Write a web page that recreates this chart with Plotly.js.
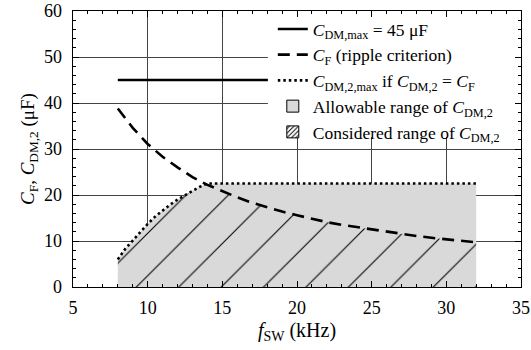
<!DOCTYPE html>
<html>
<head>
<meta charset="utf-8">
<script src="https://cdn.plot.ly/plotly-3.0.1.min.js"></script>
<style>
  body { margin: 0; }
</style>
</head>
<body>
<div id="chart" style="width:531px;height:350px"></div>
<script>
// Switching frequency f_SW (kHz) and filter capacitance C_F (µF) from the ripple criterion
const fsw = [8, 9, 10, 11, 12, 13, 14, 15, 16, 17, 18, 19, 20,
             21, 22, 23, 24, 25, 26, 27, 28, 29, 30, 31, 32];
const cF  = [38.8, 34.6, 31.1, 28.3, 26.0, 23.9, 22.2, 20.8, 19.5, 18.3, 17.3, 16.4, 15.6,
             14.8, 14.1, 13.5, 13.0, 12.5, 12.0, 11.5, 11.1, 10.7, 10.4, 10.0, 9.7];

// Maximum C_DM,2 if C_DM,2 = C_F (upper edge of the allowable range)
const fswDot = [8, 8.5, 9, 9.5, 10, 10.5, 11, 11.5, 12, 12.5, 13, 13.5, 14, 32];
const cDot   = [6.0, 8.3, 10.1, 12.0, 13.7, 15.3, 16.7, 17.9, 19.0, 20.0, 20.9, 21.8, 22.5, 22.5];

// Upper limit C_DM,max
const fswMax = [8, 32];
const cMax   = [45, 45];

// Considered range: below both the dotted limit and the ripple curve
const hatchX = [], hatchY = [];
fswDot.forEach((x, i) => { if (x < 14) { hatchX.push(x); hatchY.push(cDot[i]); } });
fsw.forEach((x, i) => {
  if (x >= 14) {
    const j = fswDot.indexOf(x);
    hatchX.push(x);
    hatchY.push(j >= 0 ? Math.min(cF[i], cDot[j]) : cF[i]);
  }
});

const FONT = 'Liberation Serif';
const GREY = '#d9d9d9';

const traces = [
  { // allowable range
    x: fswDot, y: cDot, type: 'scatter', mode: 'lines',
    fill: 'tozeroy', fillcolor: GREY, line: { width: 0 },
    showlegend: false, hoverinfo: 'skip'
  },
  { // considered range (hatched)
    x: hatchX, y: hatchY, type: 'scatter', mode: 'lines',
    fill: 'tozeroy', fillcolor: 'rgba(0,0,0,0)', line: { width: 0 },
    fillpattern: { shape: '/', size: 30, solidity: 0.035,
                   fgcolor: '#000', bgcolor: 'rgba(0,0,0,0)' },
    showlegend: false, hoverinfo: 'skip'
  },
  {
    x: fswMax, y: cMax, type: 'scatter', mode: 'lines',
    name: '<i>C</i><sub>DM,max</sub> = 45 μF',
    line: { color: '#000', width: 2.5 }
  },
  {
    x: fsw, y: cF, type: 'scatter', mode: 'lines',
    name: '<i>C</i><sub>F</sub> (ripple criterion)',
    line: { color: '#000', width: 2.6, dash: '12px,7px' }
  },
  {
    x: fswDot, y: cDot, type: 'scatter', mode: 'lines',
    name: '<i>C</i><sub>DM,2,max</sub> if <i>C</i><sub>DM,2</sub> = <i>C</i><sub>F</sub>',
    line: { color: '#000', width: 2.6, dash: '2.5px,3px' }
  },
  { // legend swatches for the two shaded ranges
    x: [null], y: [null], type: 'bar',
    name: 'Allowable range of <i>C</i><sub>DM,2</sub>',
    marker: { color: GREY, line: { color: '#000', width: 1 } }
  },
  {
    x: [null], y: [null], type: 'bar',
    name: 'Considered range of <i>C</i><sub>DM,2</sub>',
    marker: { color: '#fff', line: { color: '#000', width: 1 },
              pattern: { shape: '/', size: 4, solidity: 0.3, fgcolor: '#000', bgcolor: '#fff' } }
  }
];

function axisStyle() {
  return {
    showline: true, linecolor: '#000', linewidth: 1.3, mirror: 'ticks',
    ticks: 'inside', ticklen: 6, tickcolor: '#000', tickwidth: 1,
    showgrid: true, gridcolor: '#444', gridwidth: 1,
    zeroline: false, fixedrange: true,
    tickfont: { family: FONT, size: 18, color: '#000' }
  };
}

const layout = {
  width: 531, height: 350,
  margin: { l: 73, r: 10, t: 11, b: 63 },
  paper_bgcolor: '#fff', plot_bgcolor: '#fff',
  font: { family: FONT, size: 17, color: '#000' },
  showlegend: true,
  xaxis: Object.assign(axisStyle(), {
    type: 'linear', range: [5, 35], dtick: 5, tick0: 5,
    minor: { ticks: 'inside', ticklen: 3, dtick: 1, tickcolor: '#000', showgrid: false },
    ticklabelstandoff: 4,
    title: { text: '<i>f</i><sub>SW</sub> (kHz)', font: { family: FONT, size: 20, color: '#000' }, standoff: 6 }
  }),
  yaxis: Object.assign(axisStyle(), {
    type: 'linear', range: [0, 60], dtick: 10, tick0: 0,
    minor: { ticks: 'inside', ticklen: 3, dtick: 2, tickcolor: '#000', showgrid: false },
    ticklabelstandoff: 6,
    title: { text: '<i>C</i><sub>F</sub>, <i>C</i><sub>DM,2</sub> (μF)', font: { family: FONT, size: 19, color: '#000' }, standoff: 4 }
  }),
  legend: {
    x: 0.446, y: 1.0, xanchor: 'left', yanchor: 'top',
    bgcolor: 'rgba(0,0,0,0)', borderwidth: 0,
    font: { family: FONT, size: 17.5, color: '#000' },
    tracegroupgap: 0
  },
  shapes: [
    { // blank panel behind the legend
      type: 'rect', layer: 'above', xref: 'paper', yref: 'paper',
      x0: 0.435, x1: 0.9866, y0: 0.5435, y1: 0.978,
      fillcolor: '#fff', line: { width: 0 }
    }
  ],
  barmode: 'overlay',
  hovermode: false
};

Plotly.newPlot('chart', traces, layout, { staticPlot: true });
</script>
</body>
</html>
